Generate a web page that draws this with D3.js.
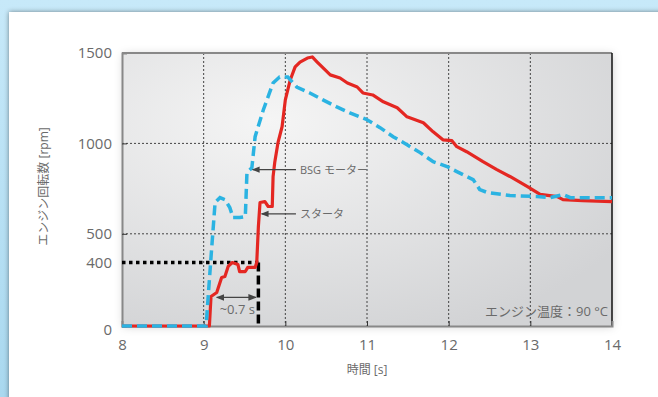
<!DOCTYPE html>
<html>
<head>
<meta charset="utf-8">
<script src="https://cdn.jsdelivr.net/npm/d3@7"></script>
<style>
  html, body { margin: 0; padding: 0; }
  body { width: 658px; height: 397px; overflow: hidden; background: #fff; }
  text { font-family: "Open Sans", "Noto Sans CJK JP", sans-serif; fill: #6a6a6a; }
</style>
</head>
<body>
<svg id="chart" width="658" height="397"></svg>
<script>
// time [s] / engine speed [rpm]
const bsgTime = [8, 9.03, 9.09, 9.14, 9.2, 9.26, 9.32, 9.36, 9.44, 9.51, 9.53, 9.59, 9.63, 9.73, 9.85, 9.93, 10.03, 10.14, 10.3, 10.46, 10.63, 10.79, 11.0, 11.16, 11.32, 11.49, 11.65, 11.81, 11.98, 12.1, 12.22, 12.3, 12.38, 12.47, 12.75, 13.08, 13.24, 13.4, 13.49, 14];
const bsgRpm = [0, 0, 419, 673, 700, 689, 645, 590, 590, 595, 838, 865, 1037, 1185, 1334, 1367, 1367, 1312, 1279, 1241, 1202, 1169, 1131, 1087, 1037, 993, 949, 899, 872, 844, 817, 800, 745, 729, 712, 706, 700, 717, 700, 700];

const starterTime = [8, 9.07, 9.09, 9.16, 9.22, 9.26, 9.3, 9.35, 9.42, 9.44, 9.51, 9.54, 9.63, 9.65, 9.67, 9.69, 9.75, 9.79, 9.84, 9.85, 9.87, 9.91, 9.96, 10.0, 10.06, 10.12, 10.18, 10.27, 10.33, 10.39, 10.45, 10.55, 10.67, 10.76, 10.88, 10.95, 11.07, 11.2, 11.37, 11.49, 11.69, 11.81, 11.93, 12.04, 12.1, 12.22, 12.42, 12.59, 12.75, 12.96, 13.12, 13.33, 13.4, 13.64, 14];
const starterRpm = [0, 0, 186, 211, 306, 312, 375, 400, 387, 343, 343, 369, 369, 400, 540, 673, 678, 651, 651, 816, 894, 1004, 1092, 1241, 1351, 1423, 1450, 1472, 1478, 1450, 1423, 1379, 1362, 1334, 1312, 1279, 1268, 1230, 1197, 1147, 1114, 1064, 1020, 1015, 982, 954, 899, 855, 817, 762, 718, 706, 689, 684, 678];

const xTicks = [8, 9, 10, 11, 12, 13, 14];
const yTicks = [0, 400, 500, 1000, 1500];
const xGrid = [9, 10, 11, 12, 13];
const yGrid = [500, 1000];

const threshold = 400;      // rpm
const reachTime = 9.67;     // s
const gapFrom = 9.16, gapTo = 9.64, gapRpm = 180;

const svg = d3.select("#chart");
const defs = svg.append("defs");

// window frame
const frame = defs.append("linearGradient").attr("id", "frame").attr("x1", 0).attr("y1", 0).attr("x2", 0).attr("y2", 1);
frame.append("stop").attr("offset", "0%").attr("stop-color", "#c7e9f9");
frame.append("stop").attr("offset", "100%").attr("stop-color", "#a9d8ef");
svg.append("rect").attr("width", 658).attr("height", 397).attr("fill", "url(#frame)");

const sh = defs.append("filter").attr("id", "shadow").attr("x", -0.1).attr("y", -0.1).attr("width", 1.2).attr("height", 1.2);
sh.append("feDropShadow").attr("dx", 0).attr("dy", 0).attr("stdDeviation", 2.5).attr("flood-color", "#000").attr("flood-opacity", 0.45);
svg.append("rect").attr("x", 9).attr("y", 12).attr("width", 680).attr("height", 420)
  .attr("fill", "#fff").attr("filter", "url(#shadow)");

const margin = { top: 53, left: 122, right: 46, bottom: 71 };
const width = 658 - margin.left - margin.right;
const height = 397 - margin.top - margin.bottom;

const x = d3.scaleLinear().domain([8, 14]).range([0, width]);
// the printed axis puts 400 lower than a straight scale would
const y = d3.scaleLinear().domain([0, 400, 500, 1500]).range([height, height - 63.5, height - 92.2, 0]);

const g = svg.append("g").attr("transform", `translate(${margin.left},${margin.top})`);

const bg = defs.append("radialGradient").attr("id", "plotbg")
  .attr("cx", "30%").attr("cy", "25%").attr("r", "85%");
bg.append("stop").attr("offset", "0%").attr("stop-color", "#f5f5f5");
bg.append("stop").attr("offset", "100%").attr("stop-color", "#d2d3d5");
const psh = defs.append("filter").attr("id", "pshadow").attr("x", -0.1).attr("y", -0.1).attr("width", 1.2).attr("height", 1.2);
psh.append("feDropShadow").attr("dx", 1).attr("dy", 1).attr("stdDeviation", 4).attr("flood-color", "#000").attr("flood-opacity", 0.18);

g.append("rect").attr("width", width).attr("height", height)
  .attr("fill", "url(#plotbg)").attr("filter", "url(#pshadow)");

// grid
g.selectAll(".gx").data(xGrid).join("line")
  .attr("x1", d => x(d)).attr("x2", d => x(d)).attr("y1", 0).attr("y2", height)
  .attr("stroke", "#444").attr("stroke-width", 1).attr("stroke-dasharray", "2,2");
g.selectAll(".gy").data(yGrid).join("line")
  .attr("x1", 0).attr("x2", width).attr("y1", d => y(d)).attr("y2", d => y(d))
  .attr("stroke", "#444").attr("stroke-width", 1).attr("stroke-dasharray", "2,2");

// frame of plot
g.append("line").attr("x1", 0).attr("x2", width).attr("y1", 0).attr("y2", 0).attr("stroke", "#888").attr("stroke-width", 2);
g.append("line").attr("x1", width).attr("x2", width).attr("y1", 0).attr("y2", height).attr("stroke", "#111").attr("stroke-width", 1.5);

const xAxis = g.append("g").attr("transform", `translate(0,${height})`)
  .call(d3.axisBottom(x).tickValues(xTicks).tickSize(-5).tickPadding(13).tickFormat(d3.format("d")));
const yAxis = g.append("g")
  .call(d3.axisLeft(y).tickValues(yTicks).tickSize(-5).tickPadding(10).tickFormat(d3.format("d")));
[xAxis, yAxis].forEach(a => {
  a.select(".domain").attr("stroke", "#888").attr("stroke-width", 2);
  a.selectAll(".tick line").attr("stroke", "#333");
  a.selectAll(".tick text").style("font-size", "15px").style("font-family", "'Open Sans', sans-serif").attr("fill", "#6a6a6a");
});
yAxis.selectAll(".tick").filter(d => d === 0).select("text").attr("dy", "0.55em");
xAxis.selectAll(".tick").filter(d => d === 8 || d === 14).select("line").remove();
yAxis.selectAll(".tick").filter(d => d === 0 || d === 1500 || d === 400).select("line").remove();

// threshold markers
g.append("line")
  .attr("x1", 0).attr("x2", x(reachTime)).attr("y1", y(threshold)).attr("y2", y(threshold))
  .attr("stroke", "#000").attr("stroke-width", 3.5).attr("stroke-dasharray", "3.5,3.5");
g.append("line")
  .attr("x1", x(reachTime)).attr("x2", x(reachTime)).attr("y1", y(threshold)).attr("y2", height)
  .attr("stroke", "#000").attr("stroke-width", 3.5).attr("stroke-dasharray", "9,4");

const line = d3.line().x(d => x(d[0])).y(d => y(d[1]));
const starter = d3.zip(starterTime, starterRpm);
const bsg = d3.zip(bsgTime, bsgRpm);

g.append("path").datum(starter).attr("d", line)
  .attr("fill", "none").attr("stroke", "#e42722").attr("stroke-width", 3.2).attr("stroke-linejoin", "round");
g.append("path").datum(bsg).attr("d", line)
  .attr("fill", "none").attr("stroke", "#2bb3e2").attr("stroke-width", 3.5).attr("stroke-dasharray", "10,5");

// arrows
["arrowR", "arrowL"].forEach(id => {
  defs.append("marker").attr("id", id).attr("viewBox", "0 0 10 10")
    .attr("refX", 9).attr("refY", 5).attr("markerWidth", 7).attr("markerHeight", 7)
    .attr("orient", "auto-start-reverse")
    .append("path").attr("d", "M0,1 L10,5 L0,9 Z").attr("fill", "#444");
});
g.append("line")
  .attr("x1", x(gapFrom)).attr("x2", x(gapTo)).attr("y1", y(gapRpm)).attr("y2", y(gapRpm))
  .attr("stroke", "#444").attr("stroke-width", 1.2)
  .attr("marker-start", "url(#arrowR)").attr("marker-end", "url(#arrowR)");
g.append("text").attr("x", x((gapFrom + gapTo) / 2) + 1).attr("y", y(gapRpm) + 17)
  .attr("text-anchor", "middle").style("font-size", "13px").text("~0.7 s");

const notes = [
  { label: "BSG モーター", t: 9.60, rpm: 855, tx: 10.13 },
  { label: "スタータ", t: 9.71, rpm: 610, tx: 10.13 }
];
notes.forEach(n => {
  g.append("line")
    .attr("x1", x(n.tx)).attr("x2", x(n.t)).attr("y1", y(n.rpm)).attr("y2", y(n.rpm))
    .attr("stroke", "#444").attr("stroke-width", 1.1).attr("marker-end", "url(#arrowL)");
  g.append("text").attr("x", x(n.tx) + 4).attr("y", y(n.rpm) + 4)
    .style("font-size", "11px").text(n.label);
});

g.append("text").attr("x", width - 4).attr("y", height - 10)
  .attr("text-anchor", "end").style("font-size", "13px").text("エンジン温度：90 °C");

// axis titles
svg.append("text").attr("x", margin.left + width / 2).attr("y", 374)
  .attr("text-anchor", "middle").style("font-size", "12px").text("時間 [s]");
svg.append("text").attr("transform", `translate(48,${margin.top + height / 2 - 3}) rotate(-90)`)
  .attr("text-anchor", "middle").style("font-size", "12px").text("エンジン回転数 [rpm]");
</script>
</body>
</html>
